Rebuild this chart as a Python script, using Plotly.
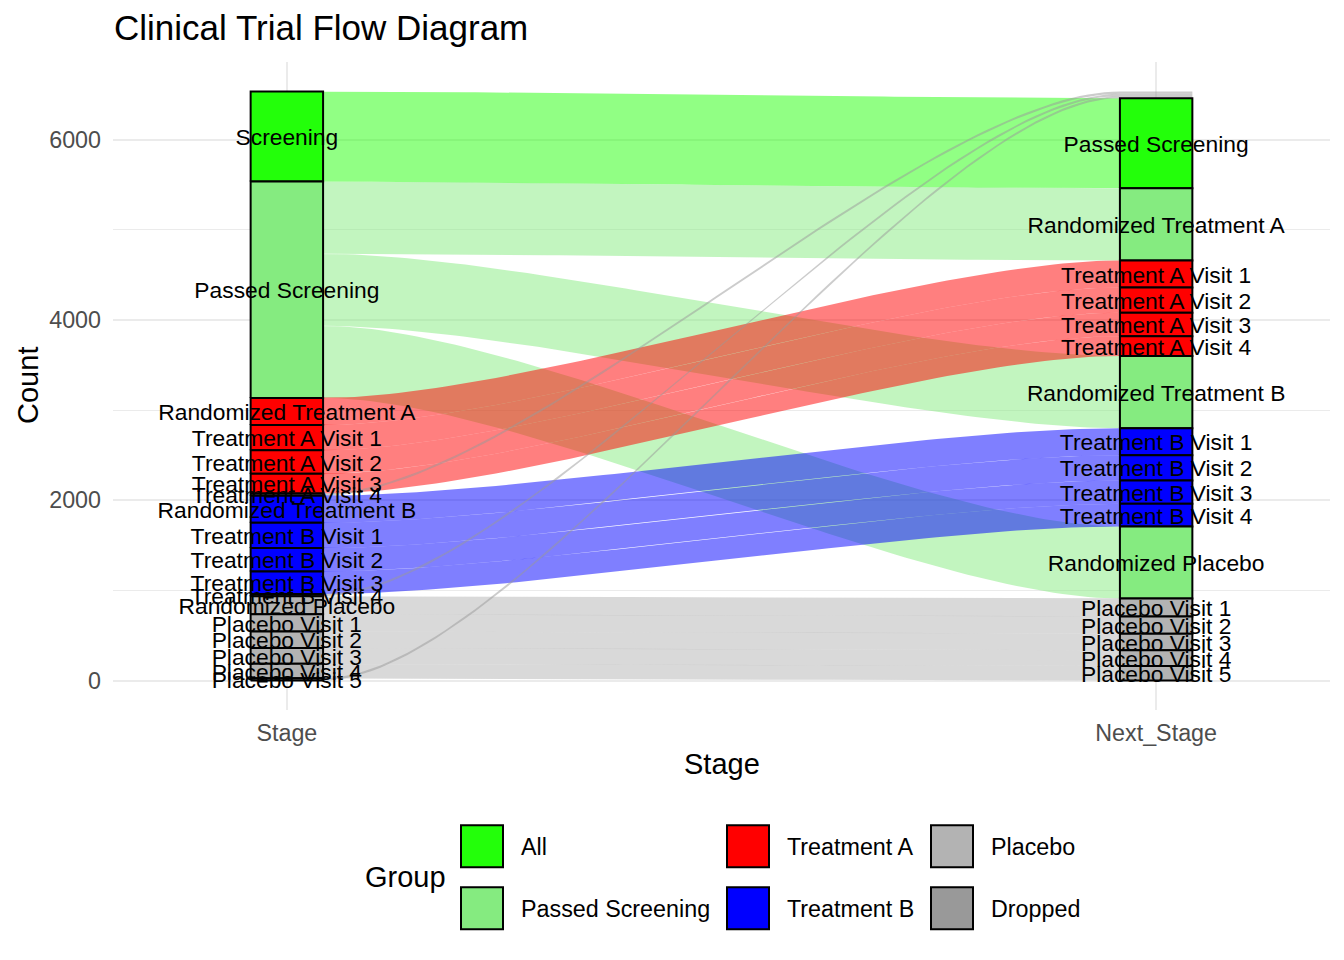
import numpy as np
import plotly.graph_objects as go

# ---------------- data ----------------
stage = [
    "Screening", "Passed Screening", "Passed Screening", "Passed Screening",
    "Randomized Treatment A", "Treatment A Visit 1", "Treatment A Visit 2", "Treatment A Visit 3", "Treatment A Visit 4",
    "Randomized Treatment B", "Treatment B Visit 1", "Treatment B Visit 2", "Treatment B Visit 3", "Treatment B Visit 4",
    "Randomized Placebo", "Placebo Visit 1", "Placebo Visit 2", "Placebo Visit 3", "Placebo Visit 4", "Placebo Visit 5",
]
next_stage = [
    "Passed Screening", "Randomized Treatment A", "Randomized Treatment B", "Randomized Placebo",
    "Treatment A Visit 1", "Treatment A Visit 2", "Treatment A Visit 3", "Treatment A Visit 4", "Dropped",
    "Treatment B Visit 1", "Treatment B Visit 2", "Treatment B Visit 3", "Treatment B Visit 4", "Dropped",
    "Placebo Visit 1", "Placebo Visit 2", "Placebo Visit 3", "Placebo Visit 4", "Placebo Visit 5", "Dropped",
]
count = [1000, 800, 800, 800,
         300, 280, 260, 220, 25,
         300, 280, 260, 250, 25,
         200, 190, 185, 175, 160, 25]
group = ["All", "Passed Screening", "Passed Screening", "Passed Screening",
         "Treatment A", "Treatment A", "Treatment A", "Treatment A", "Dropped",
         "Treatment B", "Treatment B", "Treatment B", "Treatment B", "Dropped",
         "Placebo", "Placebo", "Placebo", "Placebo", "Placebo", "Dropped"]

strata_levels = [
    "Dropped", "Screening", "Passed Screening",
    "Randomized Treatment A", "Treatment A Visit 1", "Treatment A Visit 2", "Treatment A Visit 3", "Treatment A Visit 4",
    "Randomized Treatment B", "Treatment B Visit 1", "Treatment B Visit 2", "Treatment B Visit 3", "Treatment B Visit 4",
    "Randomized Placebo", "Placebo Visit 1", "Placebo Visit 2", "Placebo Visit 3", "Placebo Visit 4", "Placebo Visit 5",
]
hidden_strata = ["Dropped"]

group_levels = ["All", "Passed Screening", "Treatment A", "Treatment B", "Placebo", "Dropped"]
group_colors = ["#23FF0A", "#85EB80", "#FF0000", "#0000FF", "#B3B3B3", "#999999"]

axis_labels = ["Stage", "Next_Stage"]
y_ticks = [0, 2000, 4000, 6000]

# ---------------- helpers ----------------
cmap = dict(zip(group_levels, group_colors))
rank = {s: i for i, s in enumerate(strata_levels)}
W = 1 / 12
n = len(count)
total = sum(count)


def rgba(hexc, a):
    h = hexc.lstrip("#")
    r, g, b = int(h[0:2], 16), int(h[2:4], 16), int(h[4:6], 16)
    return f"rgba({r},{g},{b},{a})"


def stack_axis(own, other):
    """Return stratum extents and per-row lode extents for one axis."""
    strata = {}
    lodes = [None] * n
    top = total
    for s in strata_levels:
        rows = [i for i in range(n) if own[i] == s]
        if not rows:
            continue
        rows.sort(key=lambda i: (rank[other[i]], i))
        h = sum(count[i] for i in rows)
        strata[s] = (top - h, top, group[rows[0]])
        t = top
        for i in rows:
            lodes[i] = (t - count[i], t)
            t -= count[i]
        top -= h
    return strata, lodes


left_strata, left_lodes = stack_axis(stage, next_stage)
right_strata, right_lodes = stack_axis(next_stage, stage)

x0 = 1 + W / 2
x1 = 2 - W / 2
tt = np.linspace(0, 1, 80)


def bez(ya, yb):
    dx = x1 - x0
    px = [x0, x0 + dx * 0.25, x1 - dx * 0.25, x1]
    py = [ya, ya, yb, yb]
    b0 = (1 - tt) ** 3
    b1 = 3 * (1 - tt) ** 2 * tt
    b2 = 3 * (1 - tt) * tt ** 2
    b3 = tt ** 3
    return (b0 * px[0] + b1 * px[1] + b2 * px[2] + b3 * px[3],
            b0 * py[0] + b1 * py[1] + b2 * py[2] + b3 * py[3])


# ---------------- layout geometry ----------------
PL, PR, PT, PB = 113, 1330, 61.6, 710.5
ymin, ymax = -0.05 * total, total * 1.05
units_per_px = (ymax - ymin) / (PB - PT)

fig = go.Figure()

# flows (alluvia)
for i in range(n):
    lb, lt = left_lodes[i]
    rb, rt = right_lodes[i]
    ux, uy = bez(lt, rt)
    dx_, dy_ = bez(lb, rb)
    xs = [1 - W / 2] + list(ux) + [2 + W / 2, 2 + W / 2] + list(dx_[::-1]) + [1 - W / 2]
    ys = [lt] + list(uy) + [rt, rb] + list(dy_[::-1]) + [lb]
    fig.add_trace(go.Scatter(x=xs, y=ys, mode="lines", fill="toself",
                             fillcolor=rgba(cmap[group[i]], 0.5),
                             line=dict(width=0), hoverinfo="skip", showlegend=False))

# strata boxes
label_x, label_y, label_t = [], [], []
for ax, strata in ((1, left_strata), (2, right_strata)):
    for s, (yb, yt, g) in strata.items():
        if s in hidden_strata:
            continue
        fig.add_trace(go.Scatter(
            x=[ax - W / 2, ax + W / 2, ax + W / 2, ax - W / 2, ax - W / 2],
            y=[yb, yb, yt, yt, yb], mode="lines", fill="toself",
            fillcolor=cmap[g], line=dict(color="black", width=2),
            hoverinfo="skip", showlegend=False))
        label_x.append(ax)
        label_y.append((yb + yt) / 2 - 3 * units_per_px)
        label_t.append(s)

fig.add_trace(go.Scatter(x=label_x, y=label_y, text=label_t, mode="text",
                         textposition="middle center",
                         textfont=dict(family="Liberation Sans", size=22.8, color="black"),
                         hoverinfo="skip", showlegend=False))


def px2paper(px, py):
    return (px - PL) / (PR - PL), (PB - py) / (PB - PT)


shapes, annots = [], []
# legend (drawn manually to match the 3x2 column-major layout)
ax_, ay_ = px2paper(405, 878)
annots.append(dict(x=ax_, y=ay_, xref="paper", yref="paper", text="Group", showarrow=False,
                   xanchor="center", yanchor="middle",
                   font=dict(family="Liberation Sans", size=29, color="black")))
col_x = [461, 727, 931]
row_y = [826, 888]
for k, g in enumerate(group_levels):
    c, r = k // 2, k % 2
    kx0, ky0 = col_x[c], row_y[r]
    a0, b0 = px2paper(kx0, ky0 + 42)
    a1, b1 = px2paper(kx0 + 42, ky0)
    shapes.append(dict(type="rect", xref="paper", yref="paper", x0=a0, x1=a1, y0=b0, y1=b1,
                       fillcolor=cmap[g], line=dict(color="black", width=2)))
    tx, ty = px2paper(kx0 + 58, ky0 + 22)
    annots.append(dict(x=tx, y=ty, xref="paper", yref="paper", text=g, showarrow=False,
                       xanchor="left", yanchor="middle",
                       font=dict(family="Liberation Sans", size=23.3, color="black")))

# axis titles
tx, ty = px2paper(28, 386)
annots.append(dict(x=tx, y=ty, xref="paper", yref="paper", text="Count", textangle=-90,
                   showarrow=False, xanchor="center", yanchor="middle",
                   font=dict(family="Liberation Sans", size=29, color="black")))
tx, ty = px2paper(721.5, 765)
annots.append(dict(x=tx, y=ty, xref="paper", yref="paper", text="Stage",
                   showarrow=False, xanchor="center", yanchor="middle",
                   font=dict(family="Liberation Sans", size=29, color="black")))

fig.update_layout(
    width=1344, height=960,
    margin=dict(l=PL, r=1344 - PR, t=PT, b=960 - PB, pad=0),
    paper_bgcolor="white", plot_bgcolor="white",
    showlegend=False,
    title=dict(text="Clinical Trial Flow Diagram", x=114 / 1344, xref="container", xanchor="left",
               y=1 - 28 / 960, yref="container", yanchor="middle",
               font=dict(family="Liberation Sans", size=35, color="black")),
    font=dict(family="Liberation Sans"),
    shapes=shapes, annotations=annots,
)
fig.update_xaxes(range=[0.8, 2.2], tickvals=[1, 2], ticktext=axis_labels,
                 showgrid=True, gridcolor="#EBEBEB", gridwidth=2, zeroline=False,
                 showline=False, ticks="", ticklabelstandoff=7,
                 tickfont=dict(family="Liberation Sans", size=23.3, color="#4D4D4D"))
fig.update_yaxes(range=[ymin, ymax], tickvals=y_ticks,
                 showgrid=True, gridcolor="#EBEBEB", gridwidth=2, zeroline=False,
                 showline=False, ticks="", ticklabelstandoff=11,
                 minor=dict(tickvals=[1000, 3000, 5000], showgrid=True, gridcolor="#EBEBEB", gridwidth=1),
                 tickfont=dict(family="Liberation Sans", size=23.3, color="#4D4D4D"))

fig.write_html("out.html", config={"displayModeBar": False},
               post_script="document.body.style.margin='0';")
